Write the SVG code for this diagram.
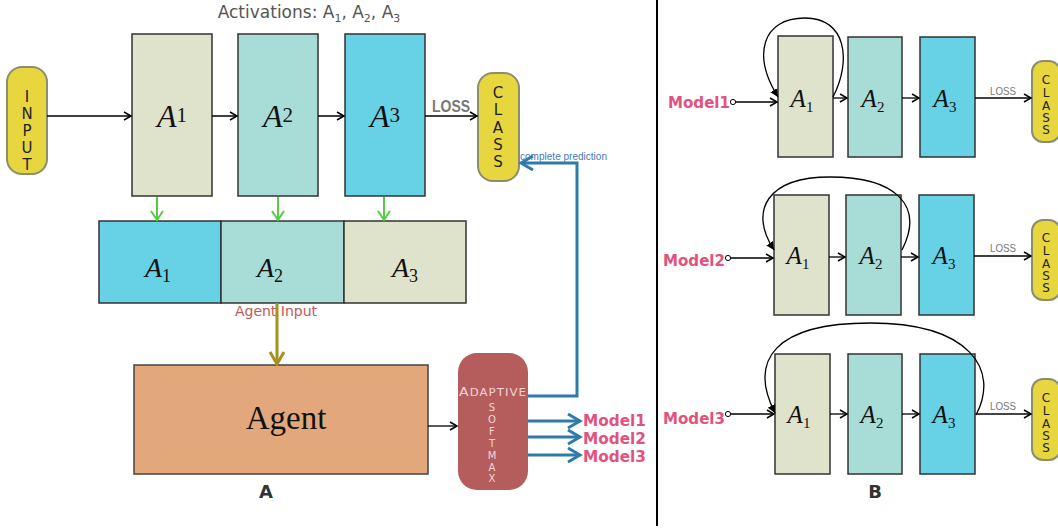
<svg xmlns="http://www.w3.org/2000/svg" width="1058" height="529" viewBox="0 0 1058 529">
  <defs>
    <marker id="arr" markerWidth="10" markerHeight="10" refX="8" refY="5" orient="auto" markerUnits="userSpaceOnUse">
      <path d="M1,1 L8,5 L1,9" fill="none" stroke="#000" stroke-width="1.5"/>
    </marker>
    <marker id="arrG" markerWidth="14" markerHeight="14" refX="11" refY="7" orient="auto" markerUnits="userSpaceOnUse">
      <path d="M2,1 L11,7 L2,13" fill="none" stroke="#55cc44" stroke-width="2"/>
    </marker>
    <marker id="arrO" markerWidth="18" markerHeight="18" refX="14" refY="9" orient="auto" markerUnits="userSpaceOnUse">
      <path d="M2,2 L14,9 L2,16" fill="none" stroke="#a8901e" stroke-width="3"/>
    </marker>
    <marker id="arrB" markerWidth="18" markerHeight="18" refX="14" refY="9" orient="auto" markerUnits="userSpaceOnUse">
      <path d="M2,2 L14,9 L2,16" fill="none" stroke="#2e7bab" stroke-width="3"/>
    </marker>
    <marker id="loopHead" markerWidth="10" markerHeight="10" refX="8" refY="5" orient="auto" markerUnits="userSpaceOnUse">
      <path d="M0,1 L8,5 L0,9 Z" fill="#000"/>
    </marker>
    <marker id="dot" markerWidth="8" markerHeight="8" refX="4" refY="4" markerUnits="userSpaceOnUse">
      <circle cx="4" cy="4" r="2.6" fill="#fff" stroke="#000" stroke-width="1"/>
    </marker>
  </defs>
  <style>
    .pill { fill: #e8d63e; stroke: #8c8c70; stroke-width: 2; }
    .pilltxt { font-family: "DejaVu Sans", sans-serif; fill: #222; text-anchor: middle; }
    .c1 { fill: #e0e3cc; stroke: #333; stroke-width: 1.5; }
    .c2 { fill: #a8dcd7; stroke: #333; stroke-width: 1.5; }
    .c3 { fill: #67d1e6; stroke: #333; stroke-width: 1.5; }
    .math { font-family: "Liberation Serif", "DejaVu Serif", serif; font-style: italic; fill: #111; text-anchor: middle; }
    .up { font-style: normal; }
    .ln { stroke: #000; stroke-width: 1.5; fill: none; }
    .lnR { stroke: #000; stroke-width: 1.3; fill: none; }
    .loss { font-family: "Liberation Sans", sans-serif; fill: #777; }
    .model { font-family: "DejaVu Sans", sans-serif; font-weight: bold; fill: #e2527e; }
    .blue { stroke: #2e7bab; stroke-width: 3; fill: none; }
    .panel { font-family: "DejaVu Sans", sans-serif; font-weight: bold; fill: #333; font-size: 18px; text-anchor: middle; }
  </style>

  <!-- ===== Panel A ===== -->
  <text x="309" y="18" font-family="DejaVu Sans, sans-serif" font-size="17" fill="#555" text-anchor="middle">Activations: A<tspan font-size="11" dy="4">1</tspan><tspan dy="-4">, A</tspan><tspan font-size="11" dy="4">2</tspan><tspan dy="-4">, A</tspan><tspan font-size="11" dy="4">3</tspan></text>

  <g id="input">
    <rect class="pill" x="7" y="67" width="40" height="107" rx="15"/>
    <g class="pilltxt" font-size="15">
      <text x="27" y="102">I</text>
      <text x="27" y="119">N</text>
      <text x="27" y="136">P</text>
      <text x="27" y="153">U</text>
      <text x="27" y="170">T</text>
    </g>
  </g>

  <g id="layerA1">
    <rect class="c1" x="132" y="34" width="80" height="162"/>
    <text class="math" x="172" y="127" font-size="32">A<tspan class="up" font-size="21" dy="-5">1</tspan></text>
  </g>
  <g id="layerA2">
    <rect class="c2" x="238" y="34" width="80" height="162"/>
    <text class="math" x="278" y="127" font-size="32">A<tspan class="up" font-size="21" dy="-5">2</tspan></text>
  </g>
  <g id="layerA3">
    <rect class="c3" x="345" y="34" width="80" height="162"/>
    <text class="math" x="385" y="127" font-size="32">A<tspan class="up" font-size="21" dy="-5">3</tspan></text>
  </g>

  <g id="classA">
    <rect class="pill" x="478" y="73" width="41" height="108" rx="15"/>
    <g class="pilltxt" font-size="15">
      <text x="498" y="98">C</text>
      <text x="498" y="115">L</text>
      <text x="498" y="133">A</text>
      <text x="498" y="150">S</text>
      <text x="498" y="167">S</text>
    </g>
  </g>

  <g id="actA1">
    <rect class="c3" x="99" y="221" width="122" height="82"/>
    <text class="math" x="158" y="277" font-size="28">A<tspan class="up" font-size="18" dy="5">1</tspan></text>
  </g>
  <g id="actA2">
    <rect class="c2" x="221" y="221" width="123" height="82"/>
    <text class="math" x="270" y="277" font-size="28">A<tspan class="up" font-size="18" dy="5">2</tspan></text>
  </g>
  <g id="actA3">
    <rect class="c1" x="344" y="221" width="122" height="82"/>
    <text class="math" x="405" y="277" font-size="28">A<tspan class="up" font-size="18" dy="5">3</tspan></text>
  </g>

  <g id="agent">
    <rect x="134" y="365" width="294" height="109" fill="#e2a77a" stroke="#444" stroke-width="1.5"/>
    <text x="286" y="429" font-family="Liberation Serif, DejaVu Serif, serif" font-size="33" fill="#111" text-anchor="middle">Agent</text>
  </g>

  <g id="adaptiveSoftmax">
    <rect x="458" y="353" width="70" height="137" rx="19" fill="#b55c5c"/>
    <text x="493" y="396" font-family="DejaVu Sans, sans-serif" fill="#f3d6d6" text-anchor="middle" font-size="12" letter-spacing="0.9" textLength="68" lengthAdjust="spacingAndGlyphs">A<tspan font-size="10">DAPTIVE</tspan></text>
    <g font-family="DejaVu Sans, sans-serif" font-size="10" fill="#f3d6d6" text-anchor="middle">
      <text x="492" y="411">S</text>
      <text x="492" y="423">O</text>
      <text x="492" y="435">F</text>
      <text x="492" y="447">T</text>
      <text x="492" y="459">M</text>
      <text x="492" y="471">A</text>
      <text x="492" y="482">X</text>
    </g>
  </g>

  <g id="connectorsA">
    <line class="ln" x1="47" y1="116" x2="131" y2="116" marker-end="url(#arr)"/>
    <line class="ln" x1="212" y1="116" x2="237" y2="116" marker-end="url(#arr)"/>
    <line class="ln" x1="318" y1="116" x2="344" y2="116" marker-end="url(#arr)"/>
    <line class="ln" x1="425" y1="116" x2="477" y2="116" marker-end="url(#arr)"/>
    <text class="loss" x="432" y="112" font-size="16" font-weight="bold" textLength="38" lengthAdjust="spacingAndGlyphs">LOSS</text>
    <line x1="157" y1="197" x2="157" y2="220" stroke="#55cc44" stroke-width="2" marker-end="url(#arrG)"/>
    <line x1="278" y1="197" x2="278" y2="220" stroke="#55cc44" stroke-width="2" marker-end="url(#arrG)"/>
    <line x1="384" y1="197" x2="384" y2="220" stroke="#55cc44" stroke-width="2" marker-end="url(#arrG)"/>
    <line x1="277" y1="303" x2="277" y2="364" stroke="#a8901e" stroke-width="3" marker-end="url(#arrO)"/>
    <text x="276" y="316" font-family="DejaVu Sans, sans-serif" font-size="14" fill="#c0585c" text-anchor="middle">Agent Input</text>
    <line class="lnR" x1="428" y1="426" x2="457" y2="426" marker-end="url(#arr)"/>
    <polyline class="blue" points="528,396 577,396 577,163 521,163" marker-end="url(#arrB)"/>
    <text x="520" y="160" font-family="Liberation Sans, sans-serif" font-size="10" fill="#4a7ab0" textLength="87" lengthAdjust="spacingAndGlyphs">complete prediction</text>
    <line class="blue" x1="528" y1="421" x2="580" y2="421" marker-end="url(#arrB)"/>
    <line class="blue" x1="528" y1="437" x2="580" y2="437" marker-end="url(#arrB)"/>
    <line class="blue" x1="528" y1="455" x2="580" y2="455" marker-end="url(#arrB)"/>
    <text class="model" x="583" y="426" font-size="15.5" textLength="63" lengthAdjust="spacingAndGlyphs">Model1</text>
    <text class="model" x="583" y="444" font-size="15.5" textLength="63" lengthAdjust="spacingAndGlyphs">Model2</text>
    <text class="model" x="583" y="462" font-size="15.5" textLength="63" lengthAdjust="spacingAndGlyphs">Model3</text>
  </g>
  <text class="panel" x="266" y="498">A</text>

  <!-- divider -->
  <line x1="657" y1="0" x2="657" y2="526" stroke="#000" stroke-width="2"/>

  <!-- ===== Panel B ===== -->
  <g id="m1A1"><rect class="c1" x="778" y="36" width="55" height="121"/>
    <text class="math" x="802" y="107" font-size="25">A<tspan class="up" font-size="15" dy="5">1</tspan></text></g>
  <g id="m1A2"><rect class="c2" x="848" y="37" width="54" height="120"/>
    <text class="math" x="873" y="107" font-size="25">A<tspan class="up" font-size="15" dy="5">2</tspan></text></g>
  <g id="m1A3"><rect class="c3" x="920" y="37" width="55" height="120"/>
    <text class="math" x="945" y="107" font-size="25">A<tspan class="up" font-size="15" dy="5">3</tspan></text></g>
  <g id="m1Class"><rect class="pill" x="1032" y="61" width="28" height="81" rx="11"/>
    <g class="pilltxt" font-size="12"><text x="1046" y="84">C</text><text x="1046" y="97">L</text><text x="1046" y="110">A</text><text x="1046" y="122">S</text><text x="1046" y="134">S</text></g></g>

  <g id="m2A1"><rect class="c1" x="774" y="195" width="55" height="120"/>
    <text class="math" x="798" y="264" font-size="25">A<tspan class="up" font-size="15" dy="5">1</tspan></text></g>
  <g id="m2A2"><rect class="c2" x="846" y="195" width="55" height="120"/>
    <text class="math" x="871" y="264" font-size="25">A<tspan class="up" font-size="15" dy="5">2</tspan></text></g>
  <g id="m2A3"><rect class="c3" x="919" y="195" width="55" height="120"/>
    <text class="math" x="944" y="264" font-size="25">A<tspan class="up" font-size="15" dy="5">3</tspan></text></g>
  <g id="m2Class"><rect class="pill" x="1032" y="220" width="28" height="80" rx="11"/>
    <g class="pilltxt" font-size="12"><text x="1046" y="242">C</text><text x="1046" y="255">L</text><text x="1046" y="268">A</text><text x="1046" y="280">S</text><text x="1046" y="292">S</text></g></g>

  <g id="m3A1"><rect class="c1" x="775" y="354" width="55" height="120"/>
    <text class="math" x="799" y="423" font-size="25">A<tspan class="up" font-size="15" dy="5">1</tspan></text></g>
  <g id="m3A2"><rect class="c2" x="848" y="354" width="54" height="120"/>
    <text class="math" x="872" y="423" font-size="25">A<tspan class="up" font-size="15" dy="5">2</tspan></text></g>
  <g id="m3A3"><rect class="c3" x="920" y="354" width="55" height="120"/>
    <text class="math" x="944" y="423" font-size="25">A<tspan class="up" font-size="15" dy="5">3</tspan></text></g>
  <g id="m3Class"><rect class="pill" x="1032" y="379" width="28" height="81" rx="11"/>
    <g class="pilltxt" font-size="12"><text x="1046" y="402">C</text><text x="1046" y="415">L</text><text x="1046" y="428">A</text><text x="1046" y="440">S</text><text x="1046" y="452">S</text></g></g>

  <g id="connectorsB">
    <!-- model 1 -->
    <text class="model" x="668" y="108" font-size="16" textLength="62" lengthAdjust="spacingAndGlyphs">Model1</text>
    <line class="lnR" x1="733" y1="102" x2="777" y2="102" marker-start="url(#dot)" marker-end="url(#arr)"/>
    <line class="lnR" x1="833" y1="98" x2="847" y2="98" marker-end="url(#arr)"/>
    <line class="lnR" x1="902" y1="98" x2="919" y2="98" marker-end="url(#arr)"/>
    <line class="lnR" x1="975" y1="98" x2="1031" y2="98" marker-end="url(#arr)"/>
    <text class="loss" x="990" y="95" font-size="11" textLength="26" lengthAdjust="spacingAndGlyphs">LOSS</text>
    <path class="lnR" d="M833,97 C852,60 846,18 805,18 C762,18 752,55 778,97" marker-end="url(#loopHead)"/>

    <!-- model 2 -->
    <text class="model" x="663" y="266" font-size="16" textLength="62" lengthAdjust="spacingAndGlyphs">Model2</text>
    <line class="lnR" x1="728" y1="258" x2="773" y2="258" marker-start="url(#dot)" marker-end="url(#arr)"/>
    <line class="lnR" x1="829" y1="257" x2="845" y2="257" marker-end="url(#arr)"/>
    <line class="lnR" x1="901" y1="257" x2="918" y2="257" marker-end="url(#arr)"/>
    <line class="lnR" x1="974" y1="256" x2="1031" y2="256" marker-end="url(#arr)"/>
    <text class="loss" x="990" y="252" font-size="11" textLength="26" lengthAdjust="spacingAndGlyphs">LOSS</text>
    <path class="lnR" d="M902,250 C925,205 895,177 830,177 C768,177 748,210 774,250" marker-end="url(#loopHead)"/>

    <!-- model 3 -->
    <text class="model" x="663" y="424" font-size="16" textLength="62" lengthAdjust="spacingAndGlyphs">Model3</text>
    <line class="lnR" x1="728" y1="414" x2="774" y2="414" marker-start="url(#dot)" marker-end="url(#arr)"/>
    <line class="lnR" x1="830" y1="414" x2="847" y2="414" marker-end="url(#arr)"/>
    <line class="lnR" x1="902" y1="414" x2="919" y2="414" marker-end="url(#arr)"/>
    <line x1="975" y1="414" x2="1031" y2="414" stroke="#444" stroke-width="2" marker-end="url(#arr)"/>
    <text class="loss" x="990" y="410" font-size="11" textLength="26" lengthAdjust="spacingAndGlyphs">LOSS</text>
    <path class="lnR" d="M976,415 C1000,370 970,323 870,323 C775,323 748,360 775,413" marker-end="url(#loopHead)"/>
  </g>
  <text class="panel" x="875" y="498">B</text>
</svg>
